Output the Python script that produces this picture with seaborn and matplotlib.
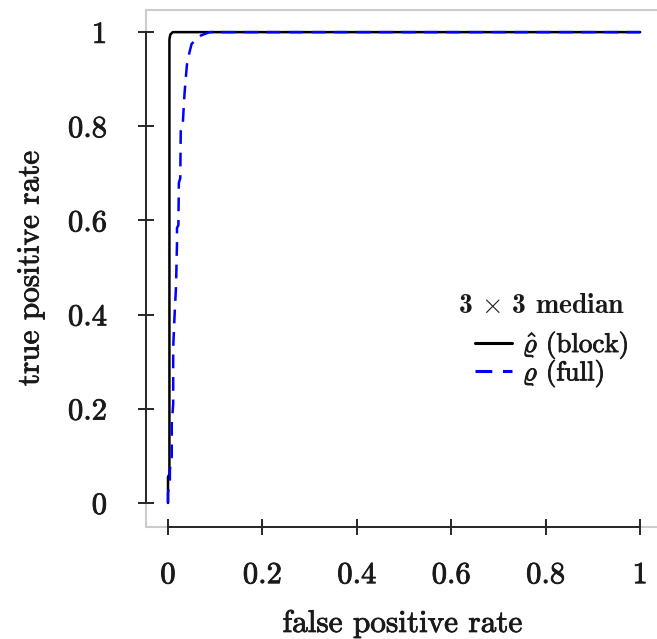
import matplotlib
matplotlib.use("Agg")
import matplotlib.pyplot as plt
from matplotlib.font_manager import FontProperties
import matplotlib.patheffects as pe
import seaborn as sns
import pandas as pd

# ---- data ----
block_fpr = [0.0, 0.0, 0.003, 0.003, 0.005, 0.010, 1.0]
block_tpr = [0.0, 0.055, 0.062, 0.985, 0.995, 1.0, 1.0]

full_fpr = [0.0, 0.0, 0.004, 0.004, 0.008, 0.008, 0.011, 0.011, 0.014, 0.017,
            0.019, 0.019, 0.022, 0.023, 0.026, 0.027, 0.031, 0.035, 0.040,
            0.045, 0.050, 0.060, 0.070, 0.088, 1.0]
full_tpr = [0.0, 0.02, 0.05, 0.07, 0.10, 0.17, 0.21, 0.33, 0.40, 0.46,
            0.55, 0.584, 0.59, 0.68, 0.69, 0.79, 0.80, 0.87, 0.93,
            0.955, 0.975, 0.985, 0.993, 1.0, 1.0]

labels = [r"$\hat{\varrho}$ (block)", r"$\varrho$ (full)"]
legend_title = r"3 $\times$ 3 median"
tick_vals = [0, 0.2, 0.4, 0.6, 0.8, 1]
tick_labels = ["0", "0.2", "0.4", "0.6", "0.8", "1"]
xlabel = "false positive rate"
ylabel = "true positive rate"

df = pd.concat([
    pd.DataFrame({"fpr": block_fpr, "tpr": block_tpr, "method": labels[0]}),
    pd.DataFrame({"fpr": full_fpr, "tpr": full_tpr, "method": labels[1]}),
], ignore_index=True)

sns.set_theme(style="white")
plt.rcParams["font.family"] = ["cmr10", "DejaVu Serif"]
plt.rcParams["mathtext.fontset"] = "cm"
plt.rcParams["axes.formatter.use_mathtext"] = True

thick = [pe.withStroke(linewidth=0.6, foreground="#1a1a1a")]

W, H = 657, 639
fig = plt.figure(figsize=(W / 100, H / 100), dpi=100)
left_px, right_px, top_px, bottom_px = 146, 659, 10, 527
ax = fig.add_axes([left_px / W, 1 - bottom_px / H,
                   (right_px - left_px) / W, (bottom_px - top_px) / H])

sns.lineplot(data=df, x="fpr", y="tpr", hue="method", style="method",
             palette=["black", "#0000ff"], dashes=["", (5.5, 3.5)],
             estimator=None, sort=False, linewidth=1.8, ax=ax, legend=True)

ax.set_xlim(-0.0466, 1.04)
ax.set_ylim(-0.051, 1.047)
ax.set_xticks(tick_vals)
ax.set_xticklabels(tick_labels)
ax.set_yticks(tick_vals)
ax.set_yticklabels(tick_labels)

# light gray frame + dark range axes
ax.patch.set_edgecolor("#cccccc")
ax.patch.set_linewidth(1.5)
for s in ("top", "right"):
    ax.spines[s].set_visible(False)
for s in ("left", "bottom"):
    ax.spines[s].set_color("#262626")
    ax.spines[s].set_linewidth(1.4)
ax.spines["left"].set_bounds(0, 1)
ax.spines["bottom"].set_bounds(0, 1)

ax.tick_params(axis="both", which="major", bottom=True, left=True,
               direction="inout", length=12, width=1.4,
               color="#262626", labelsize=22, labelcolor="#1a1a1a")
ax.tick_params(axis="y", pad=22)
ax.tick_params(axis="x", pad=19)
for t in ax.get_xticklabels() + ax.get_yticklabels():
    t.set_path_effects(thick)

ax.set_xlabel(xlabel, fontsize=22.5, labelpad=15, color="#1a1a1a",
              path_effects=thick)
ax.set_ylabel(ylabel, fontsize=22.5, labelpad=17, color="#1a1a1a",
              path_effects=thick)

handles, _ = ax.get_legend_handles_labels()
for h in handles:
    h.set_linewidth(2.2)
leg = ax.legend(handles=handles, labels=labels, loc="upper left",
                bbox_to_anchor=(0.641, 0.381), frameon=False, fontsize=19.5,
                handlelength=1.37, handletextpad=0.4, labelspacing=-0.1,
                borderpad=0, borderaxespad=0)
for t in leg.get_texts():
    t.set_color("#1a1a1a")
    t.set_path_effects(thick)
ax.text(0.772, 0.414, legend_title, transform=ax.transAxes,
        ha="center", va="baseline", color="#1a1a1a",
        fontproperties=FontProperties(family="cmb10", size=20))

fig.savefig("out.png", dpi=100)
